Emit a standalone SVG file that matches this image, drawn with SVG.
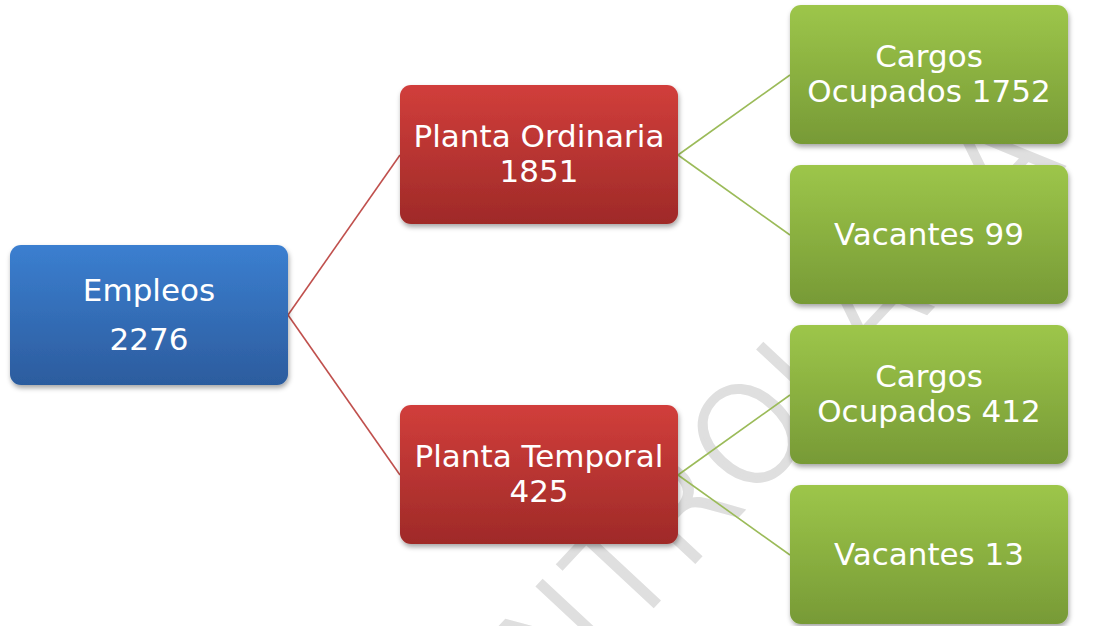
<svg xmlns="http://www.w3.org/2000/svg" width="1104" height="626" viewBox="0 0 1104 626">
  <defs>
    <linearGradient id="gBlue" x1="0" y1="0" x2="0" y2="1">
      <stop offset="0" stop-color="#3b7fd0"/>
      <stop offset="1" stop-color="#2c5c9e"/>
    </linearGradient>
    <linearGradient id="gRed" x1="0" y1="0" x2="0" y2="1">
      <stop offset="0" stop-color="#d13e3b"/>
      <stop offset="1" stop-color="#9f2a28"/>
    </linearGradient>
    <linearGradient id="gGreen" x1="0" y1="0" x2="0" y2="1">
      <stop offset="0" stop-color="#9dc64a"/>
      <stop offset="1" stop-color="#779a36"/>
    </linearGradient>
    <filter id="shadow" x="-10%" y="-10%" width="120%" height="130%">
      <feDropShadow dx="1" dy="3" stdDeviation="2.5" flood-color="#000" flood-opacity="0.35"/>
    </filter>
  </defs>
  <style>
    .node rect { filter: url(#shadow); }
    .blue { fill: url(#gBlue); }
    .red { fill: url(#gRed); }
    .green { fill: url(#gGreen); }
    .lbl { font-family: "DejaVu Sans", "Liberation Sans", sans-serif; font-size: 31px; fill: #ffffff; text-anchor: middle; }
    .c-red { stroke: #c0504d; stroke-width: 1.6; fill: none; }
    .c-green { stroke: #9bbb59; stroke-width: 1.6; fill: none; }
    .wm { font-family: "DejaVu Sans", "Liberation Sans", sans-serif; font-size: 134px; font-weight: 200; fill: #dfdfdf; stroke: #dfdfdf; stroke-width: 4; }
  </style>
  <rect width="1104" height="626" fill="#ffffff"/>
  <text class="wm" x="424" y="852" transform="rotate(-47 424 852)">CONTROLADA</text>

  <g id="connectors">
    <line class="c-red" x1="288" y1="315" x2="400" y2="155"/>
    <line class="c-red" x1="288" y1="315" x2="400" y2="475"/>
    <line class="c-green" x1="678" y1="155" x2="790" y2="75"/>
    <line class="c-green" x1="678" y1="155" x2="790" y2="235"/>
    <line class="c-green" x1="678" y1="475" x2="790" y2="395"/>
    <line class="c-green" x1="678" y1="475" x2="790" y2="555"/>
  </g>

  <g id="empleos" class="node">
    <rect class="blue" x="10" y="245" width="278" height="140" rx="11"/>
    <text class="lbl" x="149" y="301">Empleos</text>
    <text class="lbl" x="149" y="350">2276</text>
  </g>
  <g id="planta-ordinaria" class="node">
    <rect class="red" x="400" y="85" width="278" height="139" rx="11"/>
    <text class="lbl" x="539" y="147">Planta Ordinaria</text>
    <text class="lbl" x="539" y="182">1851</text>
  </g>
  <g id="planta-temporal" class="node">
    <rect class="red" x="400" y="405" width="278" height="139" rx="11"/>
    <text class="lbl" x="539" y="467">Planta Temporal</text>
    <text class="lbl" x="539" y="502">425</text>
  </g>
  <g id="cargos-1752" class="node">
    <rect class="green" x="790" y="5" width="278" height="139" rx="11"/>
    <text class="lbl" x="929" y="67">Cargos</text>
    <text class="lbl" x="929" y="102">Ocupados 1752</text>
  </g>
  <g id="vacantes-99" class="node">
    <rect class="green" x="790" y="165" width="278" height="139" rx="11"/>
    <text class="lbl" x="929" y="245">Vacantes 99</text>
  </g>
  <g id="cargos-412" class="node">
    <rect class="green" x="790" y="325" width="278" height="139" rx="11"/>
    <text class="lbl" x="929" y="387">Cargos</text>
    <text class="lbl" x="929" y="422">Ocupados 412</text>
  </g>
  <g id="vacantes-13" class="node">
    <rect class="green" x="790" y="485" width="278" height="139" rx="11"/>
    <text class="lbl" x="929" y="565">Vacantes 13</text>
  </g>
</svg>
